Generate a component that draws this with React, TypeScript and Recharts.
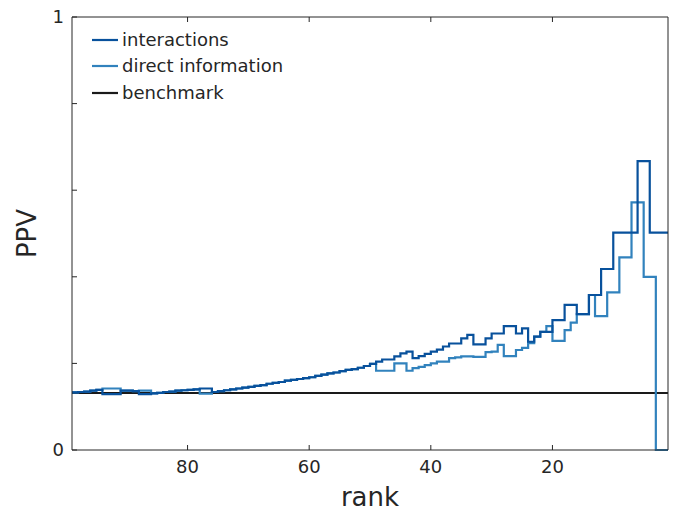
import { Legend, Line, LineChart, XAxis, YAxis } from "recharts";

// PPV by rank, rank 1..99 (index 0 = rank 1)
const interactions = [
  0.502, 0.502, 0.502, 0.667, 0.667, 0.502, 0.502, 0.502, 0.502, 0.418,
  0.418, 0.358, 0.358, 0.314, 0.314, 0.335, 0.335, 0.3, 0.3, 0.273,
  0.273, 0.262, 0.25, 0.281, 0.269, 0.286, 0.286, 0.269, 0.269, 0.258,
  0.244, 0.244, 0.266, 0.258, 0.246, 0.246, 0.239, 0.232, 0.227, 0.222,
  0.217, 0.212, 0.227, 0.223, 0.216, 0.209, 0.209, 0.204, 0.199, 0.194,
  0.19, 0.187, 0.185, 0.182, 0.179, 0.177, 0.174, 0.171, 0.168, 0.166,
  0.164, 0.162, 0.16, 0.157, 0.155, 0.153, 0.15, 0.148, 0.146, 0.144,
  0.142, 0.14, 0.138, 0.136, 0.134, 0.142, 0.142, 0.14, 0.139, 0.138,
  0.137, 0.135, 0.134, 0.132, 0.131, 0.129, 0.129, 0.136, 0.137, 0.137,
  0.129, 0.129, 0.129, 0.139, 0.137, 0.135, 0.134, 0.133, 0.132,
];

const directInformation = [
  0, 0, 0.4, 0.4, 0.572, 0.572, 0.445, 0.445, 0.364, 0.364,
  0.309, 0.309, 0.358, 0.314, 0.314, 0.294, 0.277, 0.252, 0.252, 0.286,
  0.273, 0.262, 0.247, 0.236, 0.231, 0.217, 0.217, 0.243, 0.227, 0.226,
  0.215, 0.215, 0.216, 0.216, 0.214, 0.212, 0.204, 0.204, 0.2, 0.196,
  0.192, 0.189, 0.183, 0.2, 0.2, 0.183, 0.183, 0.183, 0.199, 0.194,
  0.19, 0.187, 0.185, 0.182, 0.179, 0.177, 0.174, 0.171, 0.168, 0.166,
  0.164, 0.162, 0.16, 0.157, 0.155, 0.153, 0.15, 0.148, 0.146, 0.144,
  0.142, 0.14, 0.138, 0.136, 0.134, 0.13, 0.13, 0.14, 0.139, 0.138,
  0.137, 0.135, 0.134, 0.132, 0.131, 0.137, 0.137, 0.136, 0.137, 0.137,
  0.142, 0.142, 0.142, 0.139, 0.137, 0.135, 0.134, 0.133, 0.132,
];

const benchmark = 0.1316;

const xTicks = [20, 40, 60, 80];
const yTicks = [0, 0.2, 0.4, 0.6, 0.8, 1];
const yTickLabels: Record<number, string> = { 0: "0", 1: "1" };

const rows = interactions.map((v, i) => ({
  rank: i + 1,
  interactions: v,
  direct: directInformation[i],
  benchmark,
}));

const FONT = "'DejaVu Sans', sans-serif";
const AXIS = "#262626";
const DARK = "#08519c";
const LIGHT = "#3182bd";
const BLACK = "#1a1a1a";

const legendItems = [
  { label: "interactions", color: DARK },
  { label: "direct information", color: LIGHT },
  { label: "benchmark", color: BLACK },
];

function LegendBox() {
  return (
    <div style={{ fontFamily: FONT, fontSize: 18, color: AXIS }}>
      {legendItems.map((item) => (
        <div
          key={item.label}
          style={{ display: "flex", alignItems: "center", height: 26.3, whiteSpace: "nowrap" }}
        >
          <svg width={27} height={4} style={{ display: "block" }}>
            <line x1={0} x2={26} y1={2} y2={2} stroke={item.color} strokeWidth={2.2} />
          </svg>
          <span style={{ marginLeft: 3, lineHeight: "26px" }}>{item.label}</span>
        </div>
      ))}
    </div>
  );
}

const tickStyle = { fill: AXIS, fontSize: 18, fontFamily: FONT };

export default function App() {
  return (
    <div style={{ position: "absolute", left: 0, top: 0, background: "#fff" }}>
      <LineChart
        width={678}
        height={515}
        data={rows}
        margin={{ top: 16, right: 9, bottom: 0, left: 0 }}
      >
        <XAxis
          dataKey="rank"
          type="number"
          domain={[1, 99]}
          reversed
          allowDataOverflow
          ticks={xTicks}
          interval={0}
          tickSize={-5}
          tickMargin={15}
          height={65}
          stroke={AXIS}
          tick={tickStyle}
          label={{ value: "rank", position: "center", dy: 14, fill: AXIS, fontSize: 26, fontFamily: FONT }}
        />
        <XAxis
          xAxisId="top"
          orientation="top"
          dataKey="rank"
          type="number"
          domain={[1, 99]}
          reversed
          allowDataOverflow
          ticks={xTicks}
          interval={0}
          tickSize={-5}
          tickFormatter={() => ""}
          height={1}
          stroke={AXIS}
        />
        <YAxis
          type="number"
          domain={[0, 1]}
          ticks={yTicks}
          interval={0}
          tickSize={-5}
          tickMargin={13}
          width={72}
          stroke={AXIS}
          tick={tickStyle}
          tickFormatter={(v: number) => yTickLabels[v] ?? ""}
          label={{ value: "PPV", angle: -90, position: "center", dx: -9, fill: AXIS, fontSize: 26, fontFamily: FONT }}
        />
        <YAxis
          yAxisId="right"
          orientation="right"
          type="number"
          domain={[0, 1]}
          ticks={yTicks}
          interval={0}
          tickSize={-5}
          tickFormatter={() => ""}
          width={1}
          stroke={AXIS}
        />
        <Legend
          layout="vertical"
          align="center"
          verticalAlign="middle"
          content={<LegendBox />}
          wrapperStyle={{ left: 92, top: 27, width: "auto", height: "auto" }}
        />
        <Line
          dataKey="benchmark"
          type="linear"
          stroke={BLACK}
          strokeWidth={2}
          dot={false}
          activeDot={false}
          isAnimationActive={false}
        />
        <Line
          dataKey="direct"
          type="stepAfter"
          stroke={LIGHT}
          strokeWidth={2.2}
          dot={false}
          activeDot={false}
          isAnimationActive={false}
        />
        <Line
          dataKey="interactions"
          type="stepAfter"
          stroke={DARK}
          strokeWidth={2.2}
          dot={false}
          activeDot={false}
          isAnimationActive={false}
        />
      </LineChart>
    </div>
  );
}
